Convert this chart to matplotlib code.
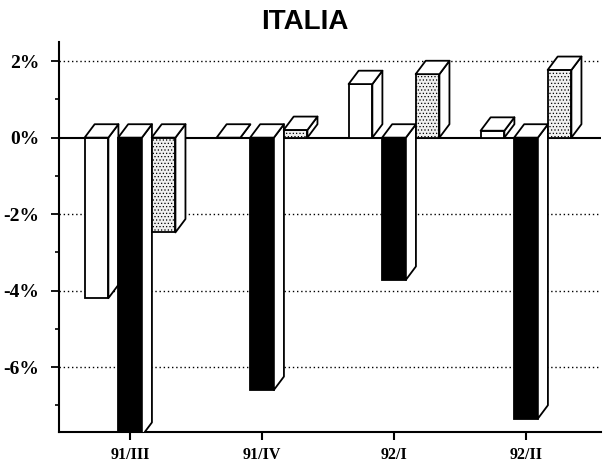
import numpy as np
import matplotlib
matplotlib.use('Agg')
import matplotlib.pyplot as plt
from matplotlib.patches import Polygon, Rectangle


# ============================================================
# Data (in %)
# ============================================================

categories = ['91/III', '91/IV', '92/I', '92/II']
white_vals = [-4.2, 0.0, 1.40, 0.18]
black_vals = [-7.8, -6.6, -3.72, -7.35]
gray_vals = [-2.48, 0.2, 1.66, 1.77]

y_ticks = [2, 0, -2, -4, -6]
y_labels = ['2%', '0%', '-2%', '-4%', '-6%']


# ============================================================
# Style
# ============================================================

SLOT = 0.254      # distance between bar centers inside a group
WIDTH = 0.18      # front face width
DX = 0.076        # 3D depth offset (x, data units)
DY = 0.35         # 3D depth offset (y, data units)
LW = 1.3

plt.rcParams['hatch.color'] = '#b4b4b4'
plt.rcParams['hatch.linewidth'] = 0.5


def bar3d(ax, xc, v, face, hatch=None):
    # 前面、侧面、顶面三个多边形拼出伪 3D 柱子
    x0, x1 = xc - WIDTH / 2, xc + WIDTH / 2
    lo, hi = min(v, 0), max(v, 0)
    if hi > lo:
        ax.add_patch(Rectangle((x0, lo), WIDTH, hi - lo, facecolor=face,
                               edgecolor='black', lw=LW, hatch=hatch, zorder=3))
    side = [(x1, lo), (x1, hi), (x1 + DX, hi + DY), (x1 + DX, lo + DY)]
    ax.add_patch(Polygon(side, closed=True, facecolor='white',
                         edgecolor='black', lw=LW, zorder=3, joinstyle='round'))
    top = [(x0, hi), (x1, hi), (x1 + DX, hi + DY), (x0 + DX, hi + DY)]
    ax.add_patch(Polygon(top, closed=True, facecolor='white',
                         edgecolor='black', lw=LW, zorder=3, joinstyle='round'))


# ============================================================
# Plot
# ============================================================

fig = plt.figure(figsize=(6.04, 4.69), dpi=100)
ax = fig.add_axes([0.0977, 0.0789, 0.8973, 0.8315])

x = np.arange(len(categories))
for i in range(len(categories)):
    bar3d(ax, x[i] - SLOT, white_vals[i], 'white')
    bar3d(ax, x[i], black_vals[i], 'black')
    bar3d(ax, x[i] + SLOT, gray_vals[i], '#efefef', hatch='.....')

for g in [2, -2, -4, -6]:
    ax.axhline(g, color='black', lw=1.0, ls=(0, (1, 2)), zorder=1)
ax.axhline(0, color='black', lw=1.5, zorder=2)

ax.set_xlim(-0.538, 3.568)
ax.set_ylim(-7.70, 2.50)

ax.spines['top'].set_visible(False)
ax.spines['right'].set_visible(False)
ax.spines['left'].set_linewidth(1.5)
ax.spines['bottom'].set_linewidth(1.5)

ax.set_yticks(y_ticks)
ax.set_yticklabels(y_labels, fontfamily='Liberation Serif',
                   fontweight='bold', fontsize=14)
ax.set_yticks([1, -1, -3, -5, -7], minor=True)
ax.tick_params(axis='y', which='major', length=6, width=1.3, pad=8)
ax.tick_params(axis='y', which='minor', length=3, width=1.2, direction='out')

ax.set_xticks(x)
ax.set_xticklabels(categories, fontfamily='Liberation Serif',
                   fontweight='bold', fontsize=11.5)
ax.tick_params(axis='x', length=6, width=1.5, direction='out', pad=5)

fig.text(0.505, 0.953, 'ITALIA', ha='center', va='center',
         fontfamily='Liberation Sans', fontweight='bold', fontsize=20)

plt.savefig('out.png', dpi=100)
plt.close()
